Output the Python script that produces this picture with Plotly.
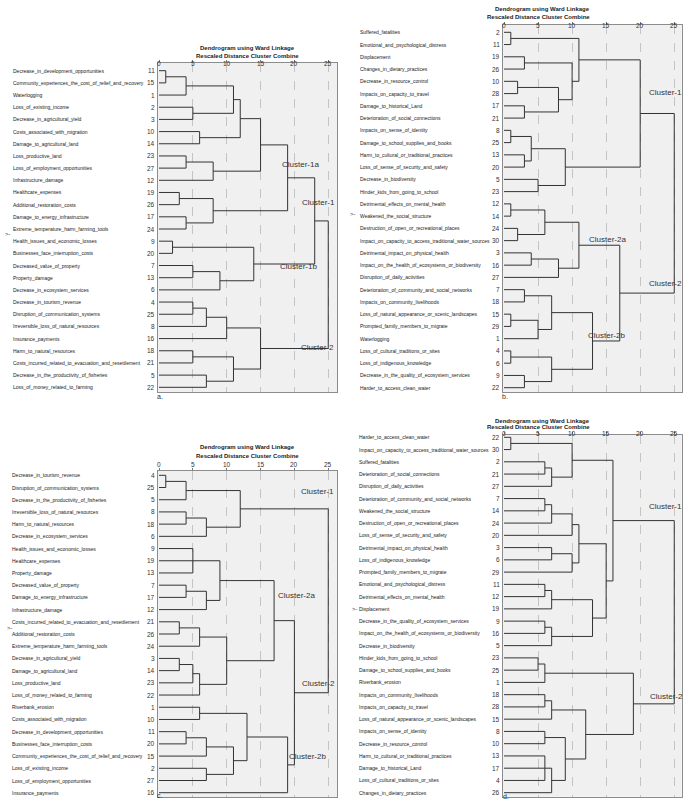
import plotly.graph_objects as go

W, H = 685, 807
FONT = "Liberation Sans, Arial, sans-serif"

tick_vals = [0, 5, 10, 15, 20, 25]
tick_text = ["0", "5", "10", "15", "20", "25"]
title_1 = "Dendrogram using Ward Linkage"
title_2 = "Rescaled Distance Cluster Combine"

# ---------------- panel a ----------------
labels_a = [
    "Decrease_in_development_opportunities",
    "Community_experiences_the_cost_of_relief_and_recovery",
    "Waterlogging",
    "Loss_of_existing_income",
    "Decrease_in_agricultural_yield",
    "Costs_associated_with_migration",
    "Damage_to_agricultural_land",
    "Loss_productive_land",
    "Loss_of_employment_opportunities",
    "Infrastructure_damage",
    "Healthcare_expenses",
    "Additional_restoration_costs",
    "Damage_to_energy_infrastructure",
    "Extreme_temperature_harm_farming_tools",
    "Health_issues_and_economic_losses",
    "Businesses_face_interruption_costs",
    "Decreased_value_of_property",
    "Property_damage",
    "Decrease_in_ecosystem_services",
    "Decrease_in_tourism_revenue",
    "Disruption_of_communication_systems",
    "Irreversible_loss_of_natural_resources",
    "Insurance_payments",
    "Harm_to_natural_resources",
    "Costs_incurred_related_to_evacuation_and_resettlement",
    "Decrease_in_the_productivity_of_fisheries",
    "Loss_of_money_related_to_farming",
]
cases_a = [11, 15, 1, 2, 3, 10, 14, 23, 27, 12, 19, 26, 17, 24, 9, 20, 7, 13, 6,
           4, 25, 8, 16, 18, 21, 5, 22]
# (child, child, ..., height)  leaves = case numbers, "mK" = K-th merge
merges_a = [
    (11, 15, 1), ("m1", 1, 4), (2, 3, 5), (10, 14, 6), ("m2", "m3", 11),
    ("m5", "m4", 12), (23, 27, 4), ("m7", 12, 8), ("m6", "m8", 15),
    (19, 26, 3), (17, 24, 4), ("m10", "m11", 8), ("m9", "m12", 19),
    (9, 20, 2), (7, 13, 5), ("m15", 6, 9), ("m14", "m16", 14),
    ("m13", "m17", 23), (4, 25, 5), ("m19", 8, 7), ("m20", 16, 10),
    (18, 21, 5), (5, 22, 7), ("m22", "m23", 11), ("m21", "m24", 15),
    ("m18", "m25", 25),
]
clusters_a = ["Cluster-1a", "Cluster-1", "Cluster-1b", "Cluster-2"]

# ---------------- panel b ----------------
labels_b = [
    "Suffered_fatalities",
    "Emotional_and_psychological_distress",
    "Displacement",
    "Changes_in_dietary_practices",
    "Decrease_in_resource_control",
    "Impacts_on_capacity_to_travel",
    "Damage_to_historical_Land",
    "Deterioration_of_social_connections",
    "Impacts_on_sense_of_identity",
    "Damage_to_school_supplies_and_books",
    "Harm_to_cultural_or_traditional_practices",
    "Loss_of_sense_of_security_and_safety",
    "Decrease_in_biodiversity",
    "Hinder_kids_from_going_to_school",
    "Detrimental_effects_on_mental_health",
    "Weakened_the_social_structure",
    "Destruction_of_open_or_recreational_places",
    "Impact_on_capacity_to_access_traditional_water_sources",
    "Detrimental_impact_on_physical_health",
    "Impact_on_the_health_of_ecosystems_or_biodiversity",
    "Disruption_of_daily_activities",
    "Deterioration_of_community_and_social_networks",
    "Impacts_on_community_livelihoods",
    "Loss_of_natural_appearance_or_scenic_landscapes",
    "Prompted_family_members_to_migrate",
    "Waterlogging",
    "Loss_of_cultural_traditions_or_sites",
    "Loss_of_indigenous_knowledge",
    "Decrease_in_the_quality_of_ecosystem_services",
    "Harder_to_access_clean_water",
]
cases_b = [2, 11, 19, 26, 10, 28, 17, 21, 8, 25, 13, 20, 5, 23, 12, 14, 24, 30,
           3, 16, 27, 7, 18, 15, 29, 1, 4, 6, 9, 22]
merges_b = [
    (2, 11, 1), (19, 26, 3), (10, 28, 2), (17, 21, 3), ("m3", "m4", 8),
    ("m2", "m5", 10), ("m1", "m6", 11), (8, 25, 1), (13, 20, 3),
    ("m8", "m9", 4), (5, 23, 5), ("m10", "m11", 9), ("m7", "m12", 20),
    (12, 14, 1), (24, 30, 2), ("m14", "m15", 6), (3, 16, 4), ("m17", 27, 8),
    ("m16", "m18", 11), (7, 18, 3), (15, 29, 1), ("m21", 1, 5),
    ("m20", "m22", 7), (4, 6, 1), (9, 22, 3), ("m24", "m25", 7),
    ("m23", "m26", 13), ("m19", "m27", 17), ("m13", "m28", 25),
]
clusters_b = ["Cluster-1", "Cluster-2a", "Cluster-2", "Cluster-2b"]

# ---------------- panel c ----------------
labels_c = [
    "Decrease_in_tourism_revenue",
    "Disruption_of_communication_systems",
    "Decrease_in_the_productivity_of_fisheries",
    "Irreversible_loss_of_natural_resources",
    "Harm_to_natural_resources",
    "Decrease_in_ecosystem_services",
    "Health_issues_and_economic_losses",
    "Healthcare_expenses",
    "Property_damage",
    "Decreased_value_of_property",
    "Damage_to_energy_infrastructure",
    "Infrastructure_damage",
    "Costs_incurred_related_to_evacuation_and_resettlement",
    "Additional_restoration_costs",
    "Extreme_temperature_harm_farming_tools",
    "Decrease_in_agricultural_yield",
    "Damage_to_agricultural_land",
    "Loss_productive_land",
    "Loss_of_money_related_to_farming",
    "Riverbank_erosion",
    "Costs_associated_with_migration",
    "Decrease_in_development_opportunities",
    "Businesses_face_interruption_costs",
    "Community_experiences_the_cost_of_relief_and_recovery",
    "Loss_of_existing_income",
    "Loss_of_employment_opportunities",
    "Insurance_payments",
]
cases_c = [4, 25, 5, 8, 18, 6, 9, 19, 13, 7, 17, 12, 21, 26, 24, 3, 14, 23, 22,
           1, 10, 11, 20, 15, 2, 27, 16]
merges_c = [
    (4, 25, 1), ("m1", 5, 4), (8, 18, 4), ("m3", 6, 7), ("m2", "m4", 12),
    (9, 19, 13, 5), (7, 17, 4), ("m7", 12, 7), ("m6", "m8", 9),
    (21, 26, 3), ("m10", 24, 6), (3, 14, 3), ("m12", 23, 5), ("m13", 22, 6),
    ("m11", "m14", 10), ("m9", "m15", 17), (1, 10, 6), (11, 20, 4),
    ("m18", 15, 7), (2, 27, 7), ("m19", "m20", 11), ("m17", "m21", 13),
    ("m22", 16, 19), ("m16", "m23", 20), ("m5", "m24", 25),
]
clusters_c = ["Cluster-1", "Cluster-2a", "Cluster-2", "Cluster-2b"]

# ---------------- panel d ----------------
labels_d = [
    "Harder_to_access_clean_water",
    "Impact_on_capacity_to_access_traditional_water_sources",
    "Suffered_fatalities",
    "Deterioration_of_social_connections",
    "Disruption_of_daily_activities",
    "Deterioration_of_community_and_social_networks",
    "Weakened_the_social_structure",
    "Destruction_of_open_or_recreational_places",
    "Loss_of_sense_of_security_and_safety",
    "Detrimental_impact_on_physical_health",
    "Loss_of_indigenous_knowledge",
    "Prompted_family_members_to_migrate",
    "Emotional_and_psychological_distress",
    "Detrimental_effects_on_mental_health",
    "Displacement",
    "Decrease_in_the_quality_of_ecosystem_services",
    "Impact_on_the_health_of_ecosystems_or_biodiversity",
    "Decrease_in_biodiversity",
    "Hinder_kids_from_going_to_school",
    "Damage_to_school_supplies_and_books",
    "Riverbank_erosion",
    "Impacts_on_community_livelihoods",
    "Impacts_on_capacity_to_travel",
    "Loss_of_natural_appearance_or_scenic_landscapes",
    "Impacts_on_sense_of_identity",
    "Decrease_in_resource_control",
    "Harm_to_cultural_or_traditional_practices",
    "Damage_to_historical_Land",
    "Loss_of_cultural_traditions_or_sites",
    "Changes_in_dietary_practices",
]
cases_d = [22, 30, 2, 21, 27, 7, 14, 24, 20, 3, 6, 29, 11, 12, 19, 9, 16, 5,
           23, 25, 1, 18, 28, 15, 8, 10, 13, 17, 4, 26]
merges_d = [
    (22, 30, 1), (2, 21, 6), ("m2", 27, 7), ("m1", "m3", 10), (7, 14, 6),
    ("m5", 24, 7), ("m6", 20, 10), (3, 6, 7), ("m8", 29, 10),
    ("m7", "m9", 11), (11, 12, 6), ("m11", 19, 7), (9, 16, 6), ("m13", 5, 7),
    ("m12", "m14", 13), ("m10", "m15", 15), ("m4", "m16", 16), (23, 25, 5),
    ("m18", 1, 6), (18, 28, 6), ("m20", 15, 7), (8, 10, 6), (13, 17, 4, 6),
    ("m23", 26, 7), ("m22", "m24", 9), ("m21", "m25", 12),
    ("m19", "m26", 19), ("m17", "m27", 25),
]
clusters_d = ["Cluster-1", "Cluster-2"]

panel_tags = ["a.", "b.", "c.", "d."]

# ---------------- layout geometry (pixels) ----------------
geom = [
    dict(x0=158, x1=337, y0=63, y1=392, zero=159, scale=6.77, row1=70.7, rowstep=12.177,
         lab_x=11, num_x=157.3, t1=42.7, t2=51, tk=57.5, tag=(155, 396),
         marker=(3, 229), cl=[(280, 158), (300, 196), (278, 260), (299, 347)]),
    dict(x0=503, x1=681.7, y0=25, y1=392, zero=504, scale=6.81, row1=32.3, rowstep=12.255,
         lab_x=358, num_x=502.3, t1=4.5, t2=12.5, tk=19.5, tag=(500, 396),
         marker=(348, 209), cl=[(646.7, 86), (586.7, 232.7), (646.7, 283.3), (585.7, 335)]),
    dict(x0=158, x1=337, y0=470.5, y1=797, zero=159, scale=6.77, row1=475.3, rowstep=12.208,
         lab_x=10, num_x=157.3, t1=447.3, t2=456, tk=464, tag=(155, 801),
         marker=(5, 633), cl=[(299, 492), (276, 601.7), (300, 690), (287.3, 762.7)]),
    dict(x0=503, x1=681.7, y0=434.7, y1=796.7, zero=504, scale=6.81, row1=437.3, rowstep=12.255,
         lab_x=357, num_x=502.3, t1=421, t2=427.3, tk=433, tag=(501, 801.5),
         marker=(350, 614), cl=[(646.7, 506), (647.7, 702.7)]),
]

panels = [
    (labels_a, cases_a, merges_a, clusters_a),
    (labels_b, cases_b, merges_b, clusters_b),
    (labels_c, cases_c, merges_c, clusters_c),
    (labels_d, cases_d, merges_d, clusters_d),
]


def tree_lines(cases, merges):
    pos = {str(c): (i + 1, 0.0) for i, c in enumerate(cases)}
    xs, ys = [], []
    for k, m in enumerate(merges, 1):
        *kids, h = m
        ps = []
        for kid in kids:
            p, hh = pos[str(kid)]
            xs += [hh, h, None]
            ys += [p, p, None]
            ps.append(p)
        xs += [h, h, None]
        ys += [min(ps), max(ps), None]
        pos[f"m{k}"] = (sum(ps) / len(ps), h)
    return xs, ys


fig = go.Figure()
annotations = []
layout_axes = {}

for idx, ((labels, cases, merges, clusters), g) in enumerate(zip(panels, geom)):
    n = idx + 1
    xs_name = "x" if n == 1 else f"x{n}"
    ys_name = "y" if n == 1 else f"y{n}"
    xa_key = "xaxis" if n == 1 else f"xaxis{n}"
    ya_key = "yaxis" if n == 1 else f"yaxis{n}"

    xs, ys = tree_lines(cases, merges)
    fig.add_trace(go.Scatter(x=xs, y=ys, mode="lines", xaxis=xs_name, yaxis=ys_name,
                             line=dict(color="#333333", width=1), hoverinfo="skip",
                             showlegend=False))

    xr = [(g["x0"] - g["zero"]) / g["scale"], (g["x1"] - g["zero"]) / g["scale"]]
    nrows = len(cases)
    ytop = 1 - (g["row1"] - g["y0"]) / g["rowstep"]
    ybot = nrows + (g["y1"] - (g["row1"] + (nrows - 1) * g["rowstep"])) / g["rowstep"]

    layout_axes[xa_key] = dict(
        domain=[g["x0"] / W, g["x1"] / W], range=xr, anchor=ys_name, side="top",
        tickvals=tick_vals, showticklabels=False, ticks="outside", ticklen=2,
        tickcolor="#777", showgrid=True, gridcolor="#c4c4c4", griddash="dash",
        gridwidth=1, zeroline=False, showline=True, mirror=True,
        linecolor="#8c8c8c", linewidth=1, fixedrange=True)
    layout_axes[ya_key] = dict(
        domain=[1 - g["y1"] / H, 1 - g["y0"] / H], range=[ybot, ytop], anchor=xs_name,
        showticklabels=False, ticks="", showgrid=False, zeroline=False,
        showline=True, mirror=True, linecolor="#8c8c8c", linewidth=1, fixedrange=True)

    cx = (g["x0"] + g["x1"]) / 2 / W
    annotations.append(dict(x=cx, y=1 - g["t1"] / H, xref="paper", yref="paper",
                            text=f"<b>{title_1}</b>", showarrow=False,
                            font=dict(size=6, family=FONT, color="#222")))
    annotations.append(dict(x=cx, y=1 - g["t2"] / H, xref="paper", yref="paper",
                            text=f"<b>{title_2}</b>", showarrow=False,
                            font=dict(size=6, family=FONT, color="#222")))
    for tv, tt in zip(tick_vals, tick_text):
        annotations.append(dict(x=tv, y=1 - g["tk"] / H, xref=xs_name, yref="paper",
                                text=tt, showarrow=False,
                                font=dict(size=6.5, family=FONT, color="#333")))
    for i, (lab, c) in enumerate(zip(labels, cases)):
        annotations.append(dict(x=g["lab_x"] / W, y=i + 1, xref="paper", yref=ys_name,
                                text=lab, xanchor="left", showarrow=False,
                                font=dict(size=5, family=FONT, color="#1a1a1a")))
        annotations.append(dict(x=g["num_x"] / W, y=i + 1, xref="paper", yref=ys_name,
                                text=str(c), xanchor="right", showarrow=False,
                                font=dict(size=6.5, family=FONT, color="#333")))
    for name, (px, py) in zip(clusters, g["cl"]):
        annotations.append(dict(x=px / W, y=1 - py / H, xref="paper", yref="paper",
                                text=name, xanchor="left", showarrow=False,
                                font=dict(size=8, family=FONT, color="#333")))
    annotations.append(dict(x=g["marker"][0] / W, y=1 - g["marker"][1] / H,
                            xref="paper", yref="paper", text=">-", xanchor="left",
                            showarrow=False, font=dict(size=6, family=FONT, color="#333")))
    annotations.append(dict(x=g["tag"][0] / W, y=1 - g["tag"][1] / H,
                            xref="paper", yref="paper", text=panel_tags[idx],
                            xanchor="left", showarrow=False,
                            font=dict(size=7, family=FONT, color="#333")))

fig.update_layout(
    width=W, height=H, margin=dict(l=0, r=0, t=0, b=0),
    paper_bgcolor="white", plot_bgcolor="#f0f0f0",
    annotations=annotations, showlegend=False, **layout_axes)

fig.write_html(
    "out.html",
    config={"displayModeBar": False, "staticPlot": True},
    post_script="document.body.style.margin='0';document.body.style.overflow='hidden';"
                "document.documentElement.style.overflow='hidden';",
)
